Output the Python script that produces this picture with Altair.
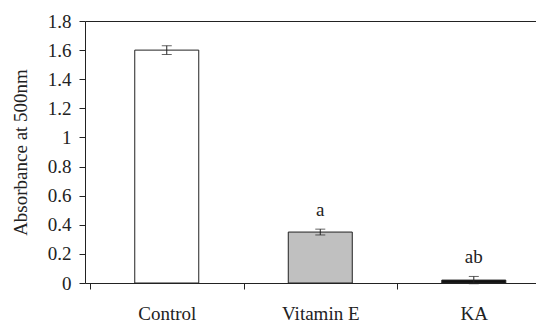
import altair as alt
import pandas as pd

categories = ["Control", "Vitamin E", "KA"]
means = [1.60, 0.35, 0.02]
errors = [0.03, 0.02, 0.025]
letters = ["", "a", "ab"]
fills = ["#ffffff", "#c0c0c0", "#111111"]
y_ticks = [0, 0.2, 0.4, 0.6, 0.8, 1.0, 1.2, 1.4, 1.6, 1.8]

df = pd.DataFrame({
    "cat": categories,
    "pos": list(range(len(categories))),
    "mean": means,
    "err": errors,
    "letter": letters,
    "fill": fills,
})
df["lo"] = df["mean"] - df["err"]
df["hi"] = df["mean"] + df["err"]

FONT = "Liberation Serif"
label_expr = "datum.value == 0 ? 'Control' : datum.value == 1 ? 'Vitamin E' : datum.value == 2 ? 'KA' : ''"

x_scale = alt.Scale(domain=[-0.5, 2.3726], nice=False, zero=False)
x_axis = alt.Axis(
    values=[-0.5, 0, 0.5, 1, 1.5, 2],
    labelExpr=label_expr,
    title=None,
    grid=False,
    tickSize=6,
    tickOpacity={"condition": {"test": "datum.value % 1 == 0", "value": 0}, "value": 1},
    labelPadding=15,
    labelFlush=False,
    labelOverlap=False,
)

y_scale = alt.Scale(domain=[0, 1.8], nice=False)
y_axis = alt.Axis(
    values=y_ticks,
    labelExpr="format(datum.value, '.1~f')",
    labelOverlap=False,
    labelFlush=False,
    title="Absorbance at 500nm",
    titlePadding=17,
    labelPadding=8,
    tickSize=6,
    grid=True,
    gridColor="#222",
    gridOpacity={"condition": {"test": "datum.value == 1.8", "value": 1}, "value": 0},
)

def X(field):
    return alt.X(field, scale=x_scale, axis=x_axis)

def Y(field):
    return alt.Y(field, scale=y_scale, axis=y_axis)

base = alt.Chart(df)

bars = base.mark_bar(size=64, stroke="#222", strokeWidth=1).encode(
    x=X("pos:Q"),
    y=Y("mean:Q"),
    fill=alt.Fill("fill:N", scale=None),
)

rule = base.mark_rule(color="#222", strokeWidth=1).encode(
    x=X("pos:Q"), y=Y("lo:Q"), y2="hi:Q"
)
tick_hi = base.mark_tick(size=10, thickness=1, color="#222", orient="horizontal").encode(
    x=X("pos:Q"), y=Y("hi:Q")
)
tick_lo = base.mark_tick(size=10, thickness=1, color="#222", orient="horizontal").encode(
    x=X("pos:Q"), y=Y("lo:Q")
)

text = base.mark_text(
    font=FONT, fontSize=19, baseline="bottom", dy=-9, color="#222"
).encode(x=X("pos:Q"), y=Y("hi:Q"), text="letter:N")

chart = alt.layer(bars, rule, tick_hi, tick_lo, text).properties(
    width=451,
    height=262,
    autosize=alt.AutoSizeParams(type="none"),
    padding={"left": 77, "top": 13, "right": 0, "bottom": 40},
).configure_view(stroke=None).configure(background="white").configure_axis(
    labelFont=FONT,
    labelFontSize=19,
    labelColor="#222",
    titleFont=FONT,
    titleFontSize=19,
    titleFontWeight="normal",
    titleColor="#222",
    domainColor="#222",
    tickColor="#222",
)

chart.save("out.html", embed_options={"renderer": "svg", "actions": False})
